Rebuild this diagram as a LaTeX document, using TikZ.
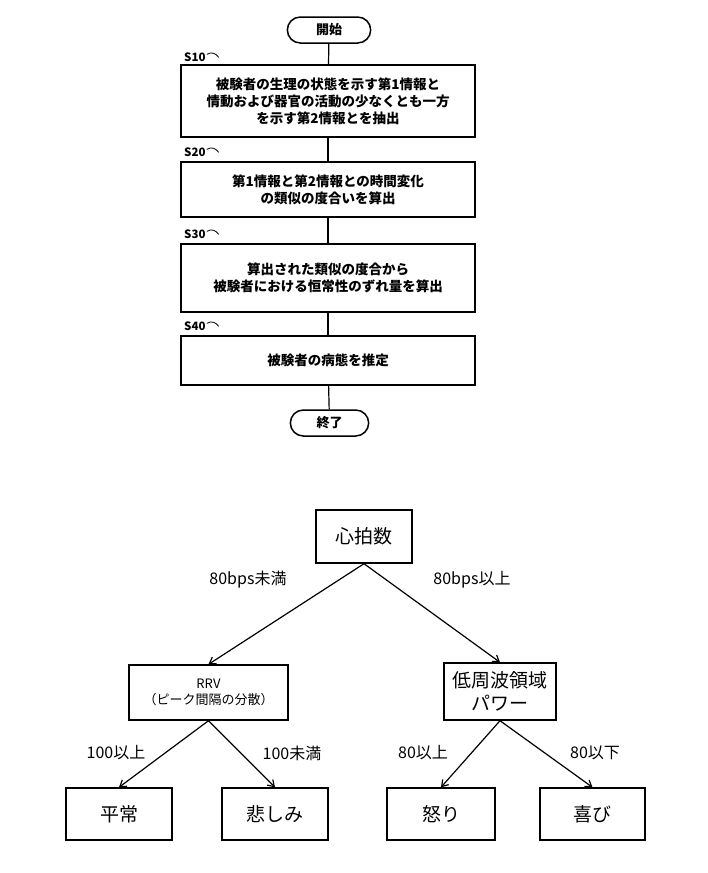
\documentclass[tikz,border=0pt]{standalone}
\usepackage{fontspec}
\setmainfont{Noto Sans CJK JP}
\usetikzlibrary{arrows.meta,shapes.misc}
\begin{document}
\begin{tikzpicture}[x=1pt,y=-1pt,
  box/.style={draw,line width=1.5pt,align=center,inner sep=0pt},
  term/.style={draw,line width=1.5pt,rounded rectangle,minimum width=90pt,minimum height=26pt,font=\bfseries\fontsize{13}{15}\selectfont},
  fc/.style={font=\bfseries\fontsize{13.5}{17}\selectfont},
  steplab/.style={font=\bfseries\fontsize{11.5}{13}\selectfont,anchor=south west,inner sep=1pt},
  tb/.style={draw,line width=1.4pt,align=center,inner sep=0pt,font=\fontsize{19}{23}\selectfont},
  lab/.style={font=\fontsize{16}{19}\selectfont},
  arr/.style={-{Straight Barb[length=6pt,width=8pt]},line width=1.2pt},
  ln/.style={line width=1.2pt}]
\useasboundingbox (0,0) rectangle (707,873);
% flowchart
\node[term] (start) at (329,30) {開始};
\node[box,fc,minimum width=294pt,minimum height=72pt] (s10) at (328,101) {被験者の生理の状態を示す第1情報と\\情動および器官の活動の少なくとも一方\\を示す第2情報とを抽出};
\node[box,fc,minimum width=294pt,minimum height=55pt] (s20) at (328,189.5) {第1情報と第2情報との時間変化\\の類似の度合いを算出};
\node[box,fc,minimum width=294pt,minimum height=68pt] (s30) at (328,278) {算出された類似の度合から\\被験者における恒常性のずれ量を算出};
\node[box,fc,minimum width=294pt,minimum height=49pt] (s40) at (328,360.5) {被験者の病態を推定};
\node[term,minimum width=85pt] (end) at (329.5,423) {終了};
\draw[ln] (start) -- (s10); \draw[ln] (s10) -- (s20); \draw[ln] (s20) -- (s30);
\draw[ln] (s30) -- (s40); \draw[ln] (s40) -- (end);
\foreach \n/\t/\y in {a/S10/63,b/S20/158,c/S30/240,d/S40/332}{
  \node[steplab] (l\n) at (183,\y) {\t};
  \draw[line width=0.8pt] (l\n.east) ++(0,-3) .. controls +(5,-3) and +(-3,-4) .. +(12,3);
}
% tree
\node[tb,minimum width=96pt,minimum height=53pt] (hr) at (364,536.5) {心拍数};
\node[tb,minimum width=159pt,minimum height=55pt,font=\fontsize{13}{16}\selectfont] (rrv) at (208.5,692.5) {RRV\\（ピーク間隔の分散）};
\node[tb,minimum width=112pt,minimum height=57pt] (lf) at (500,691.5) {低周波領域\\パワー};
\node[tb,minimum width=106pt,minimum height=52pt] (n1) at (119,814) {平常};
\node[tb,minimum width=106pt,minimum height=52pt] (n2) at (275,814) {悲しみ};
\node[tb,minimum width=108pt,minimum height=52pt] (n3) at (441,814) {怒り};
\node[tb,minimum width=105pt,minimum height=52pt] (n4) at (592.5,814) {喜び};
\draw[arr] (hr.south) -- (rrv.north);
\draw[arr] (hr.south) -- (lf.north);
\draw[arr] (rrv.south) -- (n1.north);
\draw[arr] (rrv.south) -- (n2.north);
\draw[arr] (lf.south) -- (n3.north);
\draw[arr] (lf.south) -- (n4.north);
\node[lab] (e1) at (248,580) {80bps未満};
\node[lab] (e2) at (472,580) {80bps以上};
\node[lab] (e3) at (116,753) {100以上};
\node[lab] (e4) at (292,753) {100未満};
\node[lab] (e5) at (423,753) {80以上};
\node[lab] (e6) at (595,753) {80以下};
\end{tikzpicture}
\end{document}
